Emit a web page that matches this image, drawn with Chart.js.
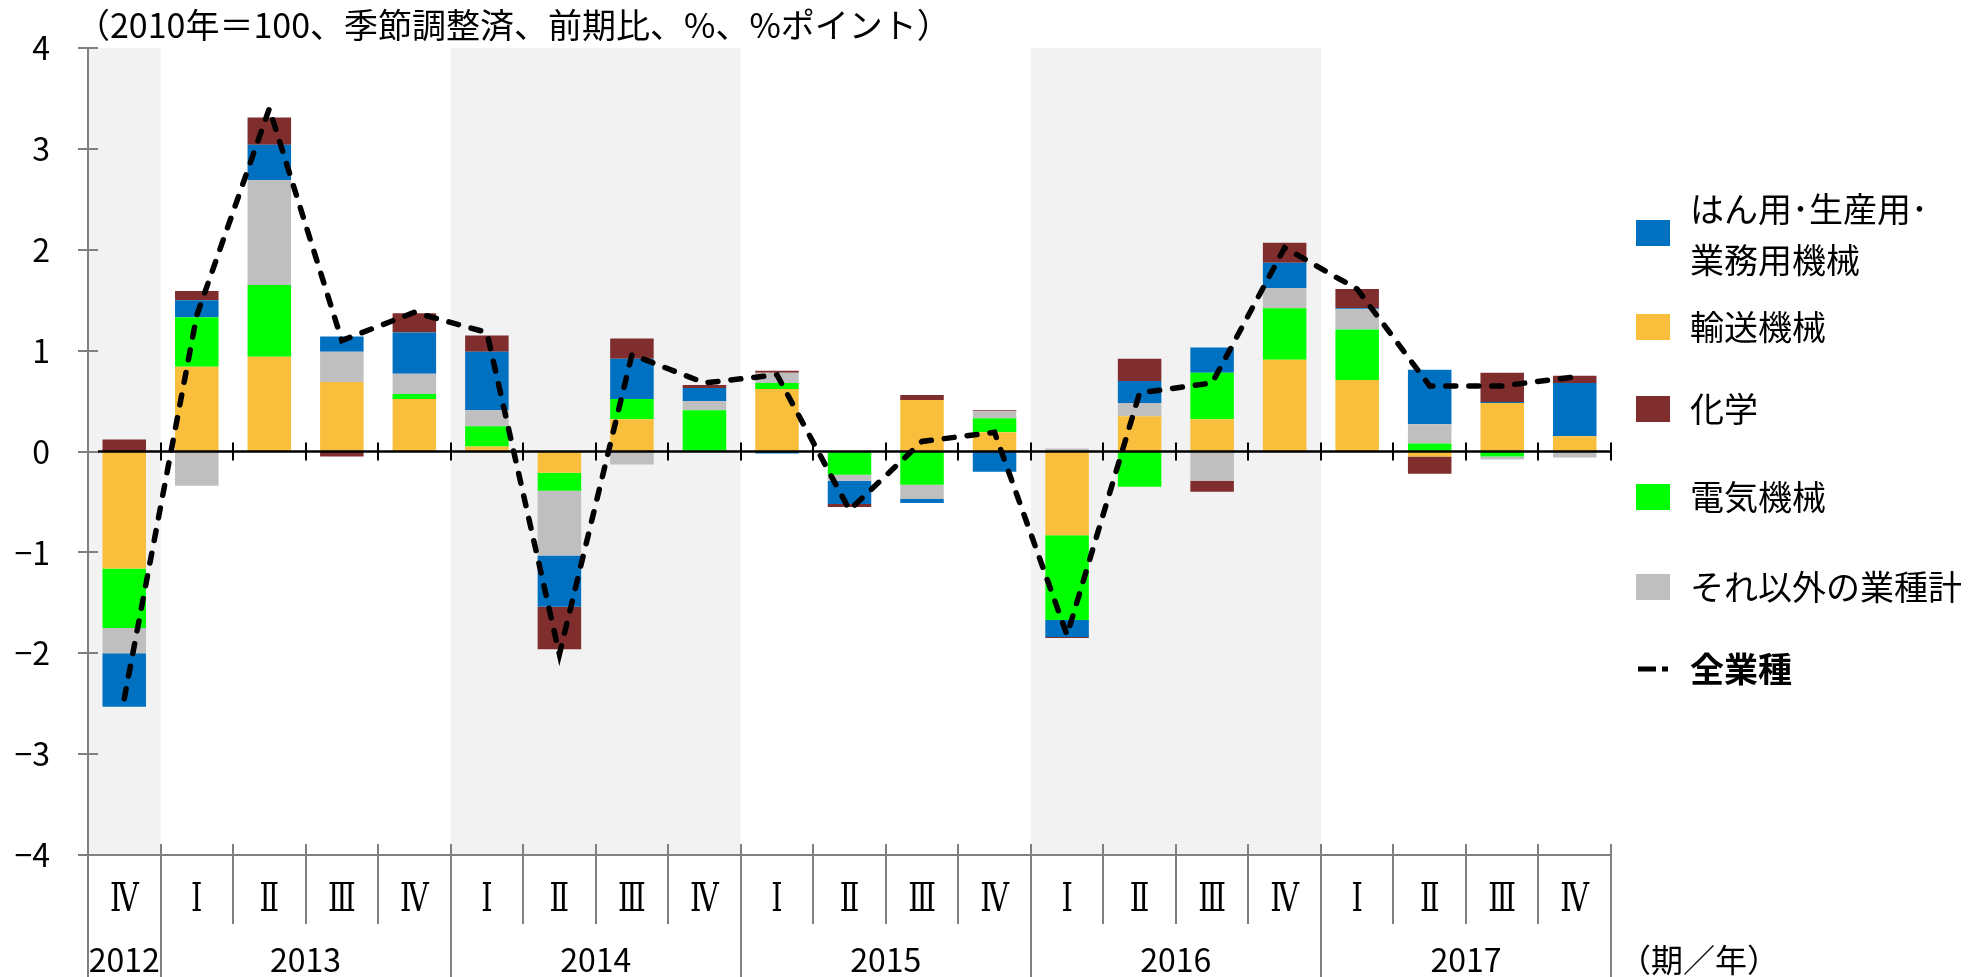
<!DOCTYPE html>
<html lang="ja">
<head>
<meta charset="utf-8">
<title>業種別寄与度</title>
<script src="https://cdn.jsdelivr.net/npm/chart.js@4.4.1/dist/chart.umd.min.js"></script>
<style>
  html, body { margin: 0; padding: 0; background: #fff; }
  #wrap { position: relative; width: 1971px; height: 977px; }
</style>
</head>
<body>
<div id="wrap"><canvas id="myChart"></canvas></div>
<script>
// quarters along the axis, years underneath
const quarters = ['Ⅳ', 'Ⅰ', 'Ⅱ', 'Ⅲ', 'Ⅳ', 'Ⅰ', 'Ⅱ', 'Ⅲ', 'Ⅳ', 'Ⅰ', 'Ⅱ', 'Ⅲ', 'Ⅳ', 'Ⅰ', 'Ⅱ', 'Ⅲ', 'Ⅳ', 'Ⅰ', 'Ⅱ', 'Ⅲ', 'Ⅳ'];
const years = ['2012', '2013', '2014', '2015', '2016', '2017'];
const quartersPerYear = [1, 4, 4, 4, 4, 4];
const shadedYears = ['2012', '2014', '2016'];
const yTicks = [-4, -3, -2, -1, 0, 1, 2, 3, 4];

// contributions (%pt), stacked from zero in this order
const transport = [-1.16, 0.84, 0.94, 0.69, 0.52, 0.05, -0.21, 0.32, 0, 0.62, 0, 0.51, 0.19, -0.83, 0.35, 0.32, 0.91, 0.71, -0.05, 0.48, 0.15];
const electric = [-0.59, 0.49, 0.71, 0, 0.05, 0.20, -0.18, 0.20, 0.41, 0.06, -0.23, -0.33, 0.14, -0.84, -0.35, 0.46, 0.51, 0.50, 0.08, -0.05, 0];
const others = [-0.25, -0.34, 1.04, 0.30, 0.20, 0.16, -0.64, -0.13, 0.09, 0.10, -0.06, -0.14, 0.07, 0.03, 0.13, -0.29, 0.20, 0.20, 0.19, -0.03, -0.06];
const machinery = [-0.53, 0.17, 0.35, 0.15, 0.41, 0.58, -0.51, 0.40, 0.13, -0.02, -0.23, -0.04, -0.20, -0.17, 0.22, 0.25, 0.25, 0.01, 0.54, 0.01, 0.53];
const chemical = [0.12, 0.09, 0.27, -0.05, 0.19, 0.16, -0.42, 0.20, 0.03, 0.02, -0.03, 0.05, 0.01, -0.01, 0.22, -0.11, 0.20, 0.19, -0.17, 0.29, 0.07];
// all industries (%)
const allIndustries = [-2.45, 1.35, 3.40, 1.10, 1.38, 1.18, -2.01, 0.96, 0.68, 0.76, -0.58, 0.10, 0.19, -1.82, 0.58, 0.68, 2.02, 1.61, 0.65, 0.65, 0.74];

const FONT = "'Noto Sans CJK JP', 'Noto Sans', sans-serif";
const ROMAN_FONT = "'DejaVu Serif', 'Liberation Serif', 'Noto Sans CJK JP', serif";
const AXIS_GREY = '#808080';

const colors = {
    machinery: '#0070c0',
    transport: '#f9bf3c',
    chemical: '#7f2d2d',
    electric: '#00ff00',
    others: '#bfbfbf',
};

// legend order differs from stacking order
const legendRows = [
    { text: ['はん用･生産用･', '業務用機械'], color: colors.machinery },
    { text: ['輸送機械'], color: colors.transport },
    { text: ['化学'], color: colors.chemical },
    { text: ['電気機械'], color: colors.electric },
    { text: ['それ以外の業種計'], color: colors.others },
    { text: ['全業種'], line: true },
];

function catEdges(chart) {
    const x = chart.scales.x;
    const w = (x.getPixelForValue(1) - x.getPixelForValue(0));
    return { w, left: x.getPixelForValue(0) - w / 2 };
}

const frame = {
    id: 'frame',
    beforeDatasetsDraw(chart) {
        const { ctx, scales: { y } } = chart;
        const { w, left } = catEdges(chart);
        const top = y.getPixelForValue(4), bottom = y.getPixelForValue(-4);
        ctx.save();
        ctx.fillStyle = '#f2f2f2';
        let start = 0;
        years.forEach((yr, i) => {
            if (shadedYears.includes(yr)) {
                ctx.fillRect(left + start * w, top, quartersPerYear[i] * w, bottom - top);
            }
            start += quartersPerYear[i];
        });
        ctx.restore();
    },
    beforeDatasetDraw(chart, args) {
        if (args.index !== 0) return;
        // zero line sits above the bars, under the dashed line
        const { ctx, chartArea: a, scales: { y } } = chart;
        const { w, left } = catEdges(chart);
        const y0 = y.getPixelForValue(0);
        ctx.save();
        ctx.strokeStyle = '#000';
        ctx.lineWidth = 2.5;
        ctx.beginPath();
        ctx.moveTo(a.left + 10, y0);
        ctx.lineTo(a.right, y0);
        ctx.stroke();
        ctx.lineWidth = 2;
        ctx.beginPath();
        for (let b = 1; b <= quarters.length; b++) {
            const px = Math.round(left + b * w);
            ctx.moveTo(px, y0 - 9);
            ctx.lineTo(px, y0 + 9);
        }
        ctx.stroke();
        ctx.restore();
    },
    afterDraw(chart) {
        const { ctx, chartArea: a, scales: { x, y } } = chart;
        const { w, left } = catEdges(chart);
        const H = chart.height;
        const base = y.getPixelForValue(-4);
        ctx.save();

        // y axis
        ctx.strokeStyle = AXIS_GREY;
        ctx.lineWidth = 2;
        ctx.beginPath();
        ctx.moveTo(a.left, y.getPixelForValue(4));
        ctx.lineTo(a.left, H);
        yTicks.forEach(v => {
            const py = Math.round(y.getPixelForValue(v));
            ctx.moveTo(a.left - 10, py);
            ctx.lineTo(a.left + 10, py);
        });
        // bottom line and category separators
        ctx.moveTo(a.left, base);
        ctx.lineTo(a.right, base);
        const yearEnds = [];
        quartersPerYear.reduce((s, n) => { yearEnds.push(s + n); return s + n; }, 0);
        for (let b = 1; b <= quarters.length; b++) {
            const px = Math.round(left + b * w);
            ctx.moveTo(px, base - 11);
            ctx.lineTo(px, yearEnds.includes(b) ? H : base + 69);
        }
        ctx.stroke();

        ctx.fillStyle = '#000';
        ctx.textAlign = 'center';
        ctx.textBaseline = 'middle';

        // quarter numerals, narrow serif like the original
        ctx.font = `40px ${ROMAN_FONT}`;
        quarters.forEach((q, i) => {
            ctx.save();
            ctx.translate(x.getPixelForValue(i), 901);
            ctx.scale(0.72, 1);
            ctx.fillText(q, 0, 0);
            ctx.restore();
        });

        // years
        ctx.font = `32px ${FONT}`;
        let start = 0;
        years.forEach((yr, i) => {
            const cx = left + (start + quartersPerYear[i] / 2) * w;
            ctx.fillText(yr, cx, 960);
            start += quartersPerYear[i];
        });
        ctx.textAlign = 'left';
        ctx.fillText('（期／年）', a.right + 8, 960);

        // title
        ctx.font = `34px ${FONT}`;
        ctx.fillText('（2010年＝100、季節調整済、前期比、%、%ポイント）', 76, 25);

        // legend
        const rowY = [233, 327, 409, 497, 587, 669];
        legendRows.forEach((row, i) => {
            const cy = rowY[i];
            if (row.line) {
                ctx.strokeStyle = '#000';
                ctx.lineWidth = 5;
                ctx.setLineDash([18, 6]);
                ctx.beginPath();
                ctx.moveTo(1638, cy);
                ctx.lineTo(1668, cy);
                ctx.stroke();
                ctx.setLineDash([]);
                ctx.font = `bold 34px ${FONT}`;
            } else {
                ctx.fillStyle = row.color;
                ctx.fillRect(1636, cy - 13, 34, 26);
                ctx.font = `34px ${FONT}`;
            }
            ctx.fillStyle = '#000';
            if (row.text.length === 2) {
                ctx.fillText(row.text[0], 1690, cy - 24);
                ctx.fillText(row.text[1], 1690, cy + 27);
            } else {
                ctx.fillText(row.text[0], 1690, cy);
            }
        });
        ctx.restore();
    }
};

function bar(label, data, color) {
    return {
        type: 'bar',
        label,
        data,
        backgroundColor: color,
        borderWidth: 0,
        barPercentage: 0.6,
        categoryPercentage: 1,
        stack: 'parts',
    };
}

const config = {
    data: {
        labels: quarters,
        datasets: [
            {
                type: 'line',
                label: '全業種',
                data: allIndustries,
                borderColor: '#000',
                borderWidth: 5.5,
                borderDash: [10, 13],
                borderCapStyle: 'round',
                pointRadius: 0,
                tension: 0,
                fill: false,
                stack: 'total',
            },
            bar('輸送機械', transport, colors.transport),
            bar('電気機械', electric, colors.electric),
            bar('それ以外の業種計', others, colors.others),
            bar('はん用・生産用・業務用機械', machinery, colors.machinery),
            bar('化学', chemical, colors.chemical),
        ]
    },
    options: {
        responsive: true,
        maintainAspectRatio: false,
        animation: false,
        layout: { padding: { top: 48, right: 360, left: 0, bottom: 0 } },
        plugins: {
            legend: { display: false },
            title: { display: false },
            tooltip: { enabled: false },
        },
        scales: {
            x: {
                stacked: true,
                afterFit(s) { s.height = 122; },
                grid: { display: false, drawTicks: false },
                border: { display: false },
                ticks: { display: false },
            },
            y: {
                stacked: true,
                min: -4,
                max: 4,
                // label padding would otherwise push the plot down
                afterFit(s) { s.width = 88; s.paddingTop = 0; s.paddingBottom = 0; },
                grid: { display: false, drawTicks: false },
                border: { display: false },
                ticks: {
                    stepSize: 1,
                    color: '#000',
                    padding: 38,
                    font: { size: 32, family: FONT },
                    callback: v => v < 0 ? '−' + Math.abs(v) : String(v),
                },
            },
        },
    },
    plugins: [frame],
};

new Chart(document.getElementById('myChart'), config);
</script>
</body>
</html>
